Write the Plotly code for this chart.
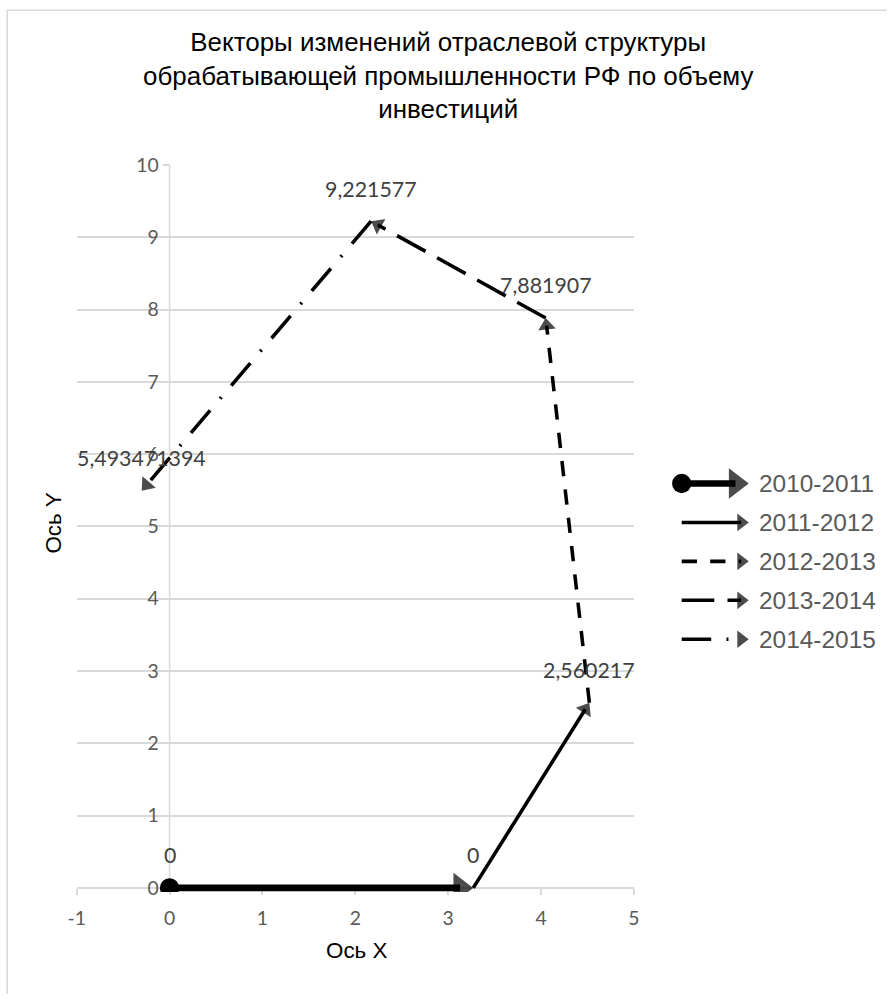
import plotly.graph_objects as go

# The page is shown at 893x999 from a 909x1017 CSS viewport, with the default
# 8px body margin. Layout numbers below are given in final picture pixels and
# converted with S.
S = 909 / 893
OFF = 8
W, H = 893, 1001

# Vectors of the manufacturing structure shift (investment volume)
periods = ["2010-2011", "2011-2012", "2012-2013", "2013-2014", "2014-2015"]
x_start = [0.0, 3.27, 4.52, 4.05, 2.17]
y_start = [0.0, 0.0, 2.560217, 7.881907, 9.221577]
x_end = [3.27, 4.52, 4.05, 2.17, -0.30]
y_end = [0.0, 2.560217, 7.881907, 9.221577, 5.493471394]
label_start = [True, False, False, False, False]

x_ticks = [-1, 0, 1, 2, 3, 4, 5]
y_ticks = [0, 1, 2, 3, 4, 5, 6, 7, 8, 9, 10]


def px(v):
    return v * S


def dash(*parts):
    return ",".join("%.1fpx" % px(p) for p in parts)


# styles per series
widths = [6.5, 3.5, 3.5, 3.5, 3.5]
dashes = ["solid", "solid", dash(15, 13), dash(32, 13), dash(29, 15, 2, 15)]
head_sizes = [26, 15, 15, 15, 15]
tail_sizes = [19, 0, 0, 0, 0]

# picture-pixel geometry of the plot area
PL, PR, PT, PB = 75.5, 632.3, 161, 885
Y_PER_UNIT = (PB - PT) / (y_ticks[-1] - y_ticks[0])
CLIP_BELOW = 4  # px of plot area kept under the x axis
GRID = "#d9d9d9"
TICK_FONT = dict(family="Lato", size=px(19), color="#595959")
LABEL_FONT = dict(family="Lato", size=px(21), color="#404040")
ARIAL = "Liberation Sans"
CLEAR = "rgba(0,0,0,0)"


def fx(p):
    return (p * S - OFF) / W


def fy(p):
    return 1 - (p * S - OFF) / H


def fmt(v):
    if v == 0:
        return "0"
    return ("%.10f" % v).rstrip("0").rstrip(".").replace(".", ",")


fig = go.Figure()


def add_vector(xs, ys, i, xaxis="x", yaxis="y"):
    # shaft + arrowhead (tip placed on the end point)
    fig.add_trace(go.Scatter(
        x=xs, y=ys, xaxis=xaxis, yaxis=yaxis,
        mode="lines+markers", showlegend=False,
        line=dict(color="black", width=px(widths[i]), dash=dashes[i]),
        marker=dict(symbol=["circle", "triangle-up"],
                    size=[0, px(head_sizes[i])],
                    standoff=px(head_sizes[i]) / 2,
                    color="black", angleref="previous",
                    line=dict(width=0)),
        hoverinfo="skip",
    ))
    # round tail marker
    if tail_sizes[i] > 0:
        fig.add_trace(go.Scatter(
            x=xs[:1], y=ys[:1], xaxis=xaxis, yaxis=yaxis,
            mode="markers", showlegend=False,
            marker=dict(symbol="circle", size=px(tail_sizes[i]),
                        color="black", line=dict(width=0)),
            hoverinfo="skip",
        ))


for i in range(len(periods)):
    add_vector([x_start[i], x_end[i]], [y_start[i], y_end[i]], i)

annotations = []
for i in range(len(periods)):
    pts = [(x_end[i], y_end[i])]
    if label_start[i]:
        pts.insert(0, (x_start[i], y_start[i]))
    for (vx, vy) in pts:
        annotations.append(dict(
            x=vx, y=vy, xref="x", yref="y", text=fmt(vy), showarrow=False,
            xanchor="center", yanchor="middle", yshift=px(32),
            font=LABEL_FONT))

# legend keys drawn on an overlay axis pair scaled in picture pixels
leg_rows = [480, 519, 558, 597, 636]
leg_x0, leg_x1, leg_text_x = 680, 747, 755
for i, name in enumerate(periods):
    add_vector([leg_x0, leg_x1], [leg_rows[i], leg_rows[i]], i, "x2", "y2")
    annotations.append(dict(
        x=leg_text_x, y=leg_rows[i], xref="x2", yref="y2", text=name,
        showarrow=False, xanchor="left", yanchor="middle",
        font=dict(family=ARIAL, size=px(24), color="#595959")))

# chart title
annotations.append(dict(
    x=fx(446.5), y=fy(71), xref="paper", yref="paper",
    text="Векторы изменений отраслевой структуры<br>"
         "обрабатывающей промышленности РФ по объему<br>инвестиций",
    showarrow=False, xanchor="center", yanchor="middle", align="center",
    font=dict(family=ARIAL, size=px(25.5), color="black")))

# axis titles
annotations.append(dict(
    x=fx(355), y=fy(948), xref="paper", yref="paper", text="Ось X",
    showarrow=False, xanchor="center", yanchor="middle",
    font=dict(family=ARIAL, size=px(22), color="black")))
annotations.append(dict(
    x=fx(52), y=fy(520), xref="paper", yref="paper", text="Ось Y",
    showarrow=False, textangle=-90, xanchor="center", yanchor="middle",
    font=dict(family=ARIAL, size=px(22), color="black")))

y_axis_pos = fx(PL + (0 - x_ticks[0]) / (x_ticks[-1] - x_ticks[0]) * (PR - PL))
y_low = y_ticks[0] - CLIP_BELOW / Y_PER_UNIT

fig.update_layout(
    width=W, height=H,
    margin=dict(l=0, r=0, t=0, b=0),
    paper_bgcolor="white", plot_bgcolor=CLEAR,
    xaxis=dict(
        domain=[fx(PL), fx(PR)], range=[x_ticks[0], x_ticks[-1]],
        tickvals=x_ticks, ticktext=[str(v) for v in x_ticks],
        showgrid=False, zeroline=False, showline=True, linecolor=GRID,
        linewidth=px(1.5), ticks="outside", ticklen=px(6), tickcolor=GRID,
        tickwidth=px(1.5), tickfont=TICK_FONT,
        ticklabelstandoff=int(round(px(7))),
        anchor="free", position=fy(PB), layer="below traces",
        fixedrange=True),
    yaxis=dict(
        domain=[fy(PB + CLIP_BELOW), fy(PT)], range=[y_low, y_ticks[-1]],
        tickvals=y_ticks, ticktext=[str(v) for v in y_ticks],
        showgrid=True, gridcolor=GRID, gridwidth=px(1.5), zeroline=False,
        showline=False, ticks="outside",
        ticklen=px(6), tickcolor=GRID, tickwidth=px(1.5), tickfont=TICK_FONT,
        ticklabelstandoff=int(round(px(1))), anchor="free",
        position=y_axis_pos, layer="below traces", fixedrange=True),
    xaxis2=dict(domain=[0, 1], range=[OFF / S, (OFF + W) / S],
                visible=False, anchor="y2", fixedrange=True),
    yaxis2=dict(domain=[0, 1], range=[(OFF + H) / S, OFF / S],
                visible=False, anchor="x2", fixedrange=True),
    annotations=annotations,
    shapes=[
        # vertical axis line at x = 0
        dict(type="line", xref="x", yref="paper", layer="below",
             x0=0, x1=0, y0=fy(PB), y1=fy(PT),
             line=dict(color=GRID, width=px(1.5))),
        # chart-area border
        dict(type="line", xref="paper", yref="paper",
             x0=fx(6), x1=fx(6), y0=0, y1=fy(6),
             line=dict(color=GRID, width=px(1.5))),
        dict(type="line", xref="paper", yref="paper",
             x0=fx(6), x1=1, y0=fy(6), y1=fy(6),
             line=dict(color=GRID, width=px(1.5))),
    ],
    showlegend=False,
)

fig.write_html("out.html", config={"displayModeBar": False})
